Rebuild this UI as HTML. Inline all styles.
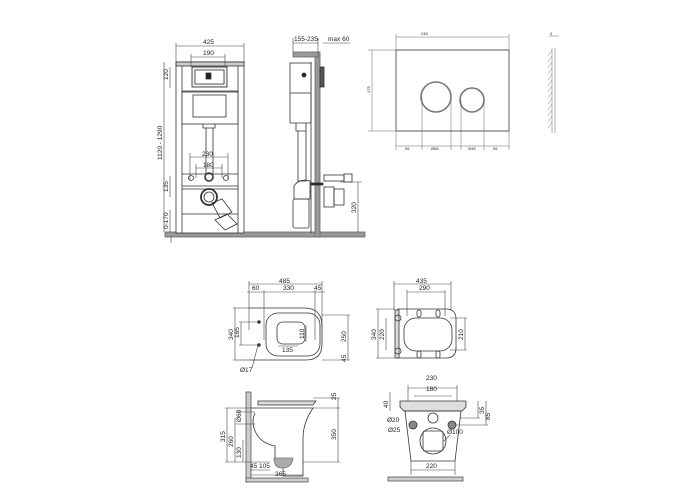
<!DOCTYPE html>
<html><head><meta charset="utf-8"><style>
html,body{margin:0;padding:0;background:#fff}
svg{display:block}
text{font-family:"Liberation Sans",sans-serif;fill:#222}
</style></head><body>
<svg width="700" height="500" viewBox="0 0 700 500" xmlns="http://www.w3.org/2000/svg">
<g stroke="#333" stroke-width="0.8" fill="none">
<!-- ===== Front view of installation frame ===== -->
<rect x="165" y="232" width="200" height="5" fill="#999" stroke="#666"/>
<rect x="176" y="62" width="68" height="171" fill="#fff"/>
<line x1="182" y1="62" x2="182" y2="233"/><line x1="238" y1="62" x2="238" y2="233"/>
<rect x="176" y="62" width="68" height="4" fill="#ccc"/>
<rect x="192" y="67" width="35" height="20" fill="#eee" stroke="#222"/>
<rect x="195" y="70" width="29" height="14" fill="#fff"/>
<rect x="206" y="73" width="5" height="6" fill="#222"/>
<rect x="182" y="92" width="56" height="32" fill="#fff"/>
<line x1="182" y1="91" x2="238" y2="91"/>
<rect x="193" y="95" width="33" height="22" fill="#fff"/>
<path d="M203 124 v4 h12 v-4"/>
<line x1="206" y1="128" x2="206" y2="175"/><line x1="213" y1="128" x2="213" y2="175"/>
<circle cx="209" cy="177" r="4" stroke-width="1.6"/>
<circle cx="191" cy="178" r="2.5"/><circle cx="226" cy="178" r="2.5"/>
<line x1="182" y1="174" x2="238" y2="174"/><line x1="182" y1="186" x2="238" y2="186"/>
<line x1="182" y1="189" x2="238" y2="189"/><line x1="182" y1="214" x2="238" y2="214"/>
<circle cx="209" cy="197" r="8" stroke-width="1.8"/><circle cx="209" cy="197" r="5"/>
<path d="M212 203 l10 -4 l10 13 l-12 6 z"/><path d="M215 220 l12 -6 l10 10 l-12 6 z"/>
<!-- dims front -->
<g stroke="#444" stroke-width="0.6">
<line x1="176" y1="46" x2="244" y2="46"/><line x1="176" y1="43" x2="176" y2="62"/><line x1="244" y1="43" x2="244" y2="62"/>
<line x1="191" y1="57" x2="225" y2="57"/><line x1="191" y1="54" x2="191" y2="67"/><line x1="225" y1="54" x2="225" y2="67"/>
<line x1="164" y1="62" x2="164" y2="232"/>
<line x1="170" y1="67" x2="170" y2="88"/>
<line x1="170" y1="176" x2="170" y2="197"/>
<line x1="170" y1="210" x2="170" y2="232"/>
<line x1="171" y1="236" x2="171" y2="243"/>
<line x1="190" y1="157" x2="228" y2="157"/><line x1="190" y1="153" x2="190" y2="180"/><line x1="228" y1="153" x2="228" y2="180"/>
<line x1="196" y1="168" x2="222" y2="168"/><line x1="196" y1="164" x2="196" y2="178"/><line x1="222" y1="164" x2="222" y2="178"/>
</g>
<!-- ===== Side view ===== -->
<rect x="315" y="52" width="5" height="185" fill="#999" stroke="#666"/>
<rect x="293" y="52" width="25" height="5" fill="#999" stroke="#666"/>
<rect x="320" y="67" width="4" height="20" fill="#555"/>
<line x1="311" y1="62" x2="311" y2="233"/>
<rect x="290" y="63" width="21" height="30" fill="#fff"/>
<circle cx="304" cy="75" r="2" fill="#222"/>
<path d="M290 93 v30 h21 v-30"/>
<path d="M296 123 v8 h10 v-8"/>
<path d="M298 131 v50 h8 v-50"/>
<path d="M294 186 q5 -8 16 -5 v18 h-16 z"/>
<rect x="293" y="199" width="16" height="29" rx="2"/>
<rect x="324" y="175" width="20" height="6"/><rect x="344" y="174" width="8" height="8"/>
<rect x="311" y="183" width="12" height="2" fill="#222"/>
<rect x="324" y="187" width="10" height="20"/><rect x="334" y="189" width="10" height="16"/>
<g stroke="#444" stroke-width="0.6">
<line x1="293" y1="43" x2="318" y2="43"/><line x1="293" y1="38" x2="293" y2="52"/><line x1="318" y1="38" x2="318" y2="52"/>
<line x1="323" y1="43" x2="350" y2="43"/>
<line x1="358" y1="182" x2="358" y2="232"/><line x1="340" y1="182" x2="362" y2="182"/>
</g>
<!-- ===== Flush plate ===== -->
<rect x="396" y="50" width="113" height="81"/>
<circle cx="436" cy="97" r="15" stroke="#777" stroke-width="1.6"/>
<circle cx="472" cy="100" r="12" stroke="#777" stroke-width="1.6"/>
<g stroke="#666" stroke-width="0.5">
<line x1="396" y1="37" x2="509" y2="37"/><line x1="396" y1="34" x2="396" y2="150"/><line x1="509" y1="34" x2="509" y2="150"/>
<line x1="372" y1="50" x2="372" y2="131"/><line x1="368" y1="50" x2="396" y2="50"/><line x1="368" y1="131" x2="396" y2="131"/>
<line x1="422" y1="97" x2="422" y2="150"/><line x1="451" y1="97" x2="451" y2="150"/>
<line x1="461" y1="100" x2="461" y2="150"/><line x1="484" y1="100" x2="484" y2="150"/>
<line x1="396" y1="146" x2="509" y2="146"/>
<line x1="552" y1="48" x2="552" y2="133"/><line x1="555" y1="48" x2="555" y2="133"/>
<line x1="549" y1="36" x2="559" y2="36"/>
</g>
<path d="M552 50 l-4 6 M552 56 l-4 6 M552 62 l-4 6 M552 68 l-4 6 M552 74 l-4 6 M552 80 l-4 6 M552 86 l-4 6 M552 92 l-4 6 M552 98 l-4 6 M552 104 l-4 6 M552 110 l-4 6 M552 116 l-4 6 M552 122 l-4 6" stroke="#888" stroke-width="0.5"/>
<!-- ===== Toilet top view ===== -->
<g stroke="#444" stroke-width="0.6">
<line x1="249" y1="284" x2="322" y2="284"/><line x1="249" y1="281" x2="249" y2="330"/><line x1="322" y1="281" x2="322" y2="330"/>
<line x1="247" y1="292" x2="325" y2="292"/><line x1="264" y1="290" x2="264" y2="340"/><line x1="315" y1="290" x2="315" y2="340"/>
<line x1="235" y1="308" x2="235" y2="360"/><line x1="233" y1="308" x2="249" y2="308"/><line x1="233" y1="360" x2="249" y2="360"/>
<line x1="241" y1="322" x2="241" y2="345"/><line x1="239" y1="322" x2="258" y2="322"/><line x1="239" y1="345" x2="258" y2="345"/>
<line x1="348" y1="315" x2="348" y2="360"/><line x1="322" y1="315" x2="350" y2="315"/><line x1="322" y1="360" x2="350" y2="360"/>
<line x1="278" y1="346" x2="298" y2="346"/><line x1="306" y1="325" x2="306" y2="342"/>
<line x1="258" y1="345" x2="252" y2="368"/>
</g>
<path d="M249 308 h55 q18 0 18 18 v18 q0 16 -16 16 h-57" fill="none"/>
<rect x="266" y="313" width="54" height="43" rx="12"/>
<rect x="277" y="322" width="28" height="22" rx="6"/>
<circle cx="259" cy="322" r="1.3" fill="#333"/><circle cx="259" cy="345" r="1.3" fill="#333"/>
<!-- ===== Seat top view ===== -->
<g stroke="#444" stroke-width="0.6">
<line x1="394" y1="284" x2="451" y2="284"/><line x1="394" y1="281" x2="394" y2="310"/><line x1="451" y1="281" x2="451" y2="310"/>
<line x1="407" y1="292" x2="445" y2="292"/><line x1="407" y1="290" x2="407" y2="316"/><line x1="445" y1="290" x2="445" y2="316"/>
<line x1="378" y1="309" x2="378" y2="358"/><line x1="376" y1="309" x2="395" y2="309"/><line x1="376" y1="358" x2="395" y2="358"/>
<line x1="386" y1="318" x2="386" y2="350"/>
<line x1="465" y1="318" x2="465" y2="350"/><line x1="450" y1="318" x2="467" y2="318"/><line x1="450" y1="350" x2="467" y2="350"/>
</g>
<path d="M398 309 h48 q10 0 10 10 v29 q0 10 -10 10 h-48 z"/>
<rect x="404" y="318" width="48" height="33" rx="12"/>
<rect x="395" y="310" width="4" height="48" fill="#ddd"/>
<circle cx="398" cy="318" r="3"/><circle cx="398" cy="351" r="3"/>
<rect x="417" y="310" width="4" height="7" rx="2"/><rect x="436" y="310" width="4" height="7" rx="2"/>
<rect x="417" y="351" width="4" height="7" rx="2"/><rect x="436" y="351" width="4" height="7" rx="2"/>
<!-- ===== Toilet side view ===== -->
<rect x="246" y="392" width="5" height="90" fill="#ccc" stroke="#555"/>
<rect x="246" y="478" width="62" height="4" fill="#ccc" stroke="#555"/>
<path d="M258 401 h58 l-3 4 h-55 z" fill="#ddd"/>
<path d="M251 408 h62 q-10 15 -10 30 v38 h-20 v-8 q-8 -5 -8 -12 v-10 q-15 -3 -20 -15 q-4 -10 0 -18"/>
<path d="M274 458 q0 10 8 10 q10 0 11 -10 z" fill="#aaa" stroke="#777"/>
<g stroke="#444" stroke-width="0.6">
<line x1="227" y1="408" x2="227" y2="462"/><line x1="235" y1="418" x2="235" y2="462"/><line x1="243" y1="440" x2="243" y2="462"/>
<line x1="225" y1="408" x2="252" y2="408"/><line x1="225" y1="462" x2="270" y2="462"/>
<line x1="236" y1="412" x2="255" y2="412"/><line x1="236" y1="424" x2="255" y2="424"/>
<line x1="250" y1="470" x2="270" y2="470"/><line x1="251" y1="475" x2="303" y2="475"/>
<line x1="338" y1="398" x2="338" y2="462"/><line x1="313" y1="398" x2="340" y2="398"/><line x1="313" y1="408" x2="340" y2="408"/><line x1="303" y1="462" x2="340" y2="462"/>
</g>
<!-- ===== Toilet front view ===== -->
<rect x="388" y="477" width="75" height="4" fill="#ccc" stroke="#555"/>
<path d="M400 401 h66 v6 l-4 4 h-58 l-4 -4 z" fill="#ddd"/>
<path d="M405 411 h56 l-6 50 h-44 z"/>
<circle cx="413" cy="425" r="4" fill="#888"/><circle cx="452" cy="425" r="4" fill="#888"/>
<circle cx="433" cy="418" r="5"/>
<circle cx="433" cy="441" r="13"/><rect x="423" y="431" width="20" height="20" rx="2"/>
<g stroke="#444" stroke-width="0.6">
<line x1="408" y1="388" x2="457" y2="388"/><line x1="408" y1="385" x2="408" y2="401"/><line x1="457" y1="385" x2="457" y2="401"/>
<line x1="414" y1="396" x2="452" y2="396"/>
<line x1="390" y1="392" x2="390" y2="411"/>
<line x1="478" y1="401" x2="478" y2="418"/><line x1="460" y1="418" x2="480" y2="418"/>
<line x1="486" y1="401" x2="486" y2="425"/><line x1="456" y1="425" x2="488" y2="425"/>
<line x1="411" y1="470" x2="455" y2="470"/><line x1="411" y1="461" x2="411" y2="475"/><line x1="455" y1="461" x2="455" y2="475"/>
<line x1="444" y1="441" x2="450" y2="435"/>
</g>
</g>
<g font-size="6.5">
<text x="203" y="44">425</text><text x="203" y="55">190</text>
<text x="168" y="80" transform="rotate(-90 168 80)">120</text>
<text x="162" y="160" transform="rotate(-90 162 160)">1120 - 1290</text>
<text x="168" y="192" transform="rotate(-90 168 192)">135</text>
<text x="168" y="229" transform="rotate(-90 168 229)">0-170</text>
<text x="202" y="156">230</text><text x="203" y="167">180</text>
<text x="294" y="41">155-235</text><text x="328" y="41">max 60</text>
<text x="356" y="213" transform="rotate(-90 356 213)">320</text>
<text x="279" y="283">485</text><text x="252" y="290">60</text><text x="283" y="290">330</text><text x="314" y="290">45</text>
<text x="233" y="340" transform="rotate(-90 233 340)">340</text>
<text x="239" y="338" transform="rotate(-90 239 338)">165</text>
<text x="346" y="342" transform="rotate(-90 346 342)">250</text>
<text x="346" y="362" transform="rotate(-90 346 362)">45</text>
<text x="304" y="339" transform="rotate(-90 304 339)">110</text>
<text x="282" y="352">135</text><text x="240" y="372">Ø17</text>
<text x="416" y="283">435</text><text x="419" y="290">290</text>
<text x="376" y="340" transform="rotate(-90 376 340)">340</text>
<text x="384" y="340" transform="rotate(-90 384 340)">220</text>
<text x="463" y="340" transform="rotate(-90 463 340)">210</text>
<text x="336" y="400" transform="rotate(-90 336 400)">25</text>
<text x="336" y="440" transform="rotate(-90 336 440)">350</text>
<text x="225" y="442" transform="rotate(-90 225 442)">315</text>
<text x="233" y="447" transform="rotate(-90 233 447)">260</text>
<text x="241" y="458" transform="rotate(-90 241 458)">130</text>
<text x="241" y="422" transform="rotate(-90 241 422)">Ø60</text>
<text x="250" y="468">45</text><text x="259" y="468">105</text><text x="275" y="476">365</text>
<text x="426" y="380">230</text><text x="426" y="391">180</text>
<text x="388" y="408" transform="rotate(-90 388 408)">40</text>
<text x="484" y="414" transform="rotate(-90 484 414)">35</text>
<text x="490" y="420" transform="rotate(-90 490 420)">85</text>
<text x="387" y="422">Ø20</text><text x="388" y="432">Ø25</text><text x="447" y="434">Ø100</text>
<text x="426" y="468">220</text>
</g>
<g font-size="4" fill="#444">
<text x="421" y="35">245</text><text x="370" y="93" transform="rotate(-90 370 93)">175</text>
<text x="405" y="150">55</text><text x="431" y="150">Ø65</text><text x="468" y="150">Ø48</text><text x="493" y="150">55</text>
<text x="550" y="35">4</text>
</g>
</svg>
</body></html>
